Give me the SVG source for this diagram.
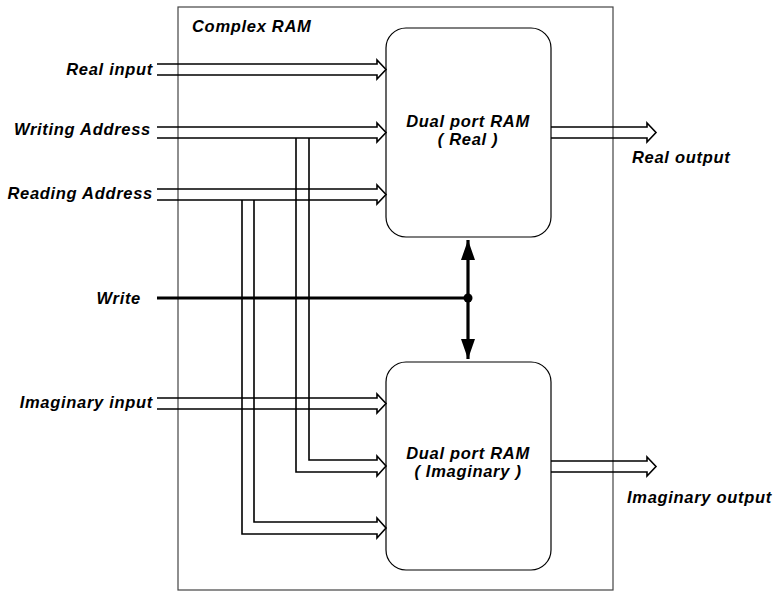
<svg xmlns="http://www.w3.org/2000/svg" width="775" height="592" viewBox="0 0 775 592">
<style>
text{font-family:"Liberation Sans",Arial,sans-serif;font-weight:bold;font-style:italic;font-size:16.5px;letter-spacing:0.7px;fill:#000}
.lbl{text-anchor:end}
.mid{text-anchor:middle}
.bus{fill:none;stroke:#000;stroke-width:1.6;stroke-linejoin:miter}
.box{fill:#fff;stroke:#000;stroke-width:1.2}
.thick{fill:none;stroke:#000;stroke-width:3.2}
</style>
<defs>
<marker id="ah" viewBox="0 0 20 14" refX="20" refY="7" markerWidth="20" markerHeight="14" markerUnits="userSpaceOnUse" orient="auto">
<path d="M0,0 L20,7 L0,14 Z" fill="#000"/>
</marker>
</defs>
<rect x="178" y="7" width="435" height="583" fill="#fff" stroke="#444" stroke-width="1.2"/>
<text x="192" y="32">Complex RAM</text>
<g id="ram-real">
<rect class="box" x="386" y="28" width="165" height="209" rx="20"/>
<text class="mid" x="468" y="127">Dual port RAM</text>
<text class="mid" x="468" y="145">( Real )</text>
</g>
<g id="ram-imag">
<rect class="box" x="386" y="362" width="165" height="208" rx="20"/>
<text class="mid" x="468" y="459">Dual port RAM</text>
<text class="mid" x="468" y="477">( Imaginary )</text>
</g>
<g id="labels">
<text class="lbl" x="153" y="75">Real input</text>
<text class="lbl" x="151" y="135">Writing Address</text>
<text class="lbl" x="153" y="199">Reading Address</text>
<text class="lbl" x="141" y="304">Write</text>
<text class="lbl" x="153" y="408">Imaginary input</text>
<text x="632" y="163">Real output</text>
<text x="627" y="503">Imaginary output</text>
</g>
<g id="connectors">
<path class="bus" d="M157,64 H377 V60 L386,69.5 L377,79 V75 H157"/>
<path class="bus" d="M157,127 H377 V123 L386,132.5 L377,142 V138 H157"/>
<path class="bus" d="M157,189 H377 V185 L386,194.5 L377,204 V200 H157"/>
<path class="bus" d="M157,398 H377 V394 L386,403.5 L377,413 V409 H157"/>
<path class="bus" d="M309,138 V460 H377 V456 L386,466 L377,476 V472 H296 V138"/>
<path class="bus" d="M254,200 V522 H377 V518 L386,528 L377,538 V534 H242 V200"/>
<path class="bus" d="M551,127 H647 V123 L656,132.5 L647,142 V138 H551"/>
<path class="bus" d="M551,461 H647 V457 L656,466.5 L647,476 V472 H551"/>
<path class="thick" d="M157,298 H468"/>
<path class="thick" d="M468,298 V240" marker-end="url(#ah)"/>
<path class="thick" d="M468,298 V359" marker-end="url(#ah)"/>
<circle cx="468" cy="298" r="4.5" fill="#000"/>
</g>
</svg>
